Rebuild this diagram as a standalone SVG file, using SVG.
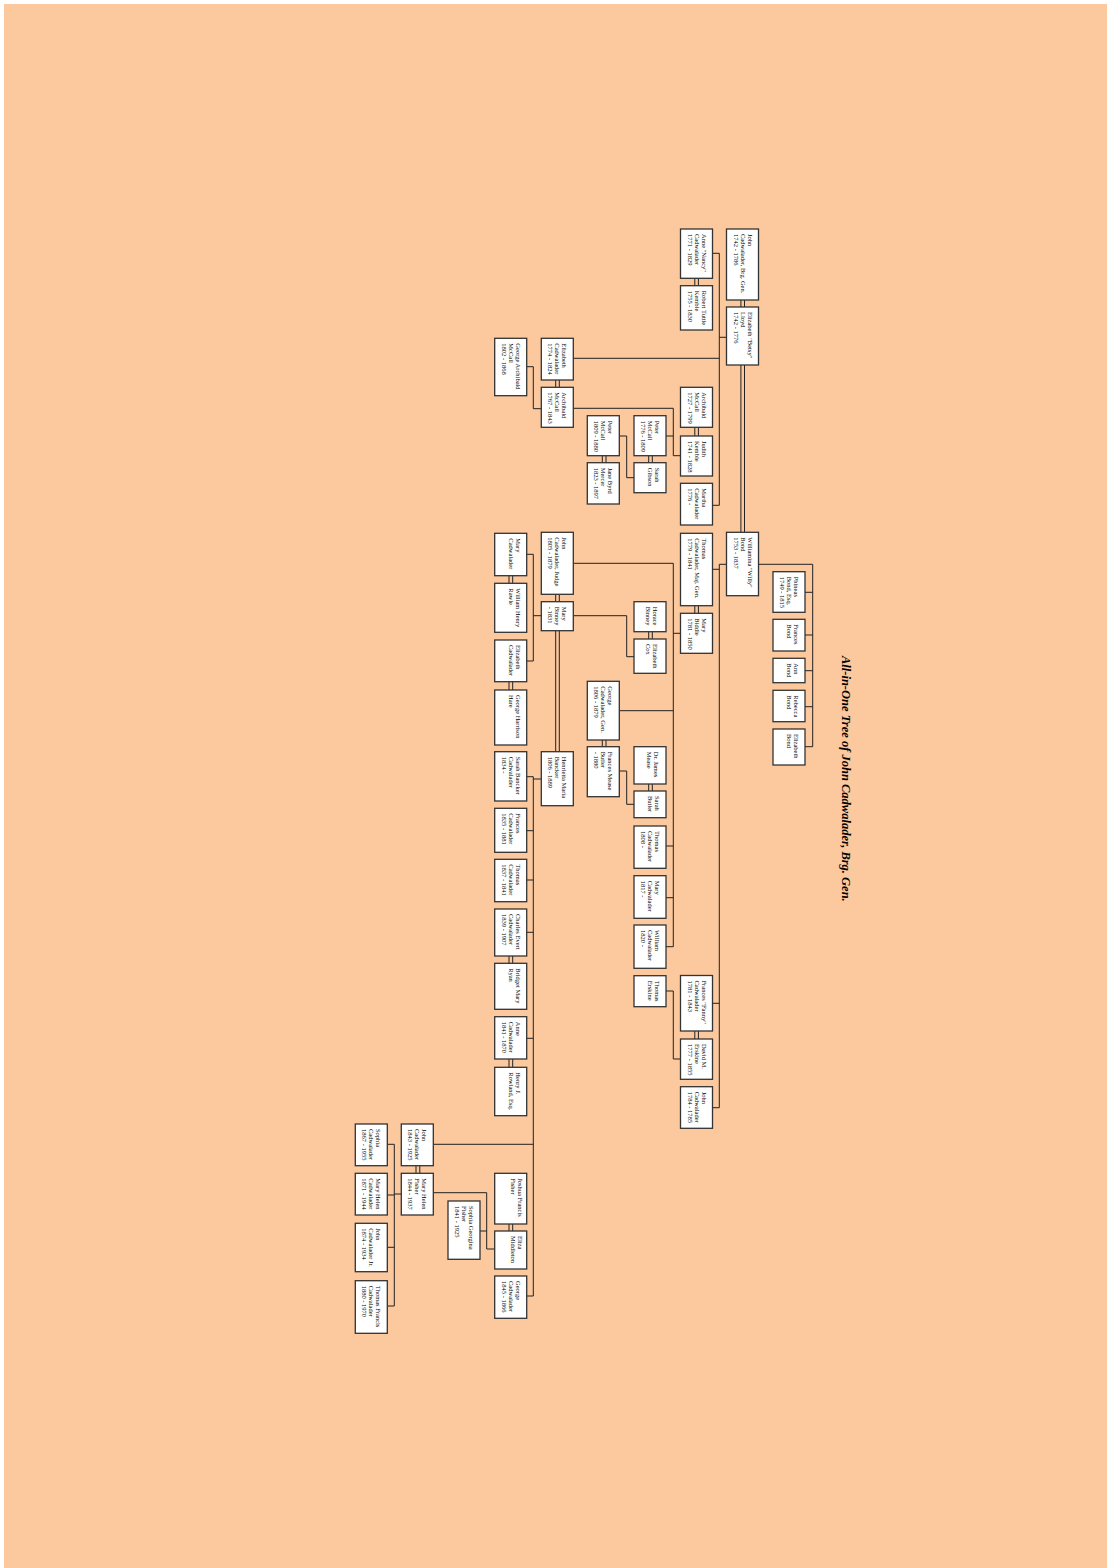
<svg xmlns="http://www.w3.org/2000/svg" width="1107" height="1568" viewBox="0 0 1107 1568">
<style>
.node rect{fill:#fff;stroke:#333;stroke-width:1.3}
.node text{font-family:"Liberation Serif","Times New Roman",serif;font-size:6.5px;fill:#000}
.conn path{fill:none;stroke:#222;stroke-width:1}
.title{font-family:"Liberation Serif","Times New Roman",serif;font-size:12.5px;font-weight:bold;font-style:italic;fill:#000}
</style>
<rect x="0" y="0" width="1107" height="1568" fill="#fff"/>
<rect x="4" y="4" width="1103" height="1564" fill="#FCC89E"/>
<text class="title" transform="translate(841.5,656) rotate(90)">All-in-One Tree of John Cadwalader, Brg. Gen.</text>

<g id="connectors" class="conn">
<path d="M719.3,253.3V505.3M712.5,253.3H719.3M726.7,337.3H719.3M573.3,358.3H719.3M712.5,505.3H719.3"/>
<path d="M726.7,564.3H719.3V1107.7M712.5,569.3H719.3M712.5,1003.3H719.3M712.5,1107.7H719.3"/>
<path d="M758.5,564.3H812.7V746.7M805,592.3H812.7M805,635H812.7M805,670.7H812.7M805,706.7H812.7M805,746.7H812.7"/>
<path d="M526.7,366.7H533.3V408.7H541"/>
<path d="M573.3,408.3H673.3V455.7H680.3M666,436H673.3"/>
<path d="M619.3,436H626.7V477.7H634"/>
<path d="M573.3,563.3H673.3V946.7M680.3,633.3H673.3M619.3,710.7H673.3M666,846H673.3M666,897.7H673.3M666,946.7H673.3"/>
<path d="M573.3,615.7H626.7V656.7H634"/>
<path d="M541,615.7H533.3M526.7,554.3H533.3V661H526.7"/>
<path d="M619.3,771H626.7V804.3H634"/>
<path d="M541,779H533.3M533.3,776.7V1296M526.7,776.7H533.3M526.7,830.7H533.3M526.7,880H533.3M526.7,932.3H533.3M526.7,1038.3H533.3M526.7,1296H533.3M433.3,1144.3H533.3"/>
<path d="M666,991H673.3V1059H680.3"/>
<path d="M433.3,1192.7H486.7V1249H494.7M480,1231H486.7"/>
<path d="M401.7,1194H394.3M394.3,1144.3V1306M387.3,1144.3H394.3M387.3,1195H394.3M387.3,1247.3H394.3M387.3,1306H394.3"/>
<!-- spouse double lines -->
<path d="M740.9,300V307M744.5,300V307M740.9,365V532.3M744.5,365V532.3"/>
<path d="M694.8,278.3V285.7M698.4,278.3V285.7M694.8,427.3V436M698.4,427.3V436M694.8,605.7V613.3M698.4,605.7V613.3M694.8,1031V1039M698.4,1031V1039"/>
<path d="M555.7,380V387.3M559.3,380V387.3M555.7,594.3V601.7M559.3,594.3V601.7M555.7,630.7V751.7M559.3,630.7V751.7"/>
<path d="M648.7,455.7V462.7M652.3,455.7V462.7M648.7,631.7V639M652.3,631.7V639M648.7,784V791M652.3,784V791"/>
<path d="M602.3,455.7V462.7M606,455.7V462.7M602.3,740V746.7M606,740V746.7"/>
<path d="M509,575.7V583.3M512.7,575.7V583.3M509,681.7V690M512.7,681.7V690M509,956V963.3M512.7,956V963.3M509,1059V1067.3M512.7,1059V1067.3M509,1224V1231M512.7,1224V1231"/>
<path d="M416,1165.7V1173.3M419.8,1165.7V1173.3"/>
</g>

<g id="john_brg" class="node" transform="translate(758.5,229) rotate(90)"><rect width="71" height="32"/><text><tspan x="5" y="11">John</tspan><tspan x="5" y="18">Cadwalader, Brg. Gen.</tspan><tspan x="5" y="25">1742 - 1786</tspan></text></g>
<g id="eliz_lloyd" class="node" transform="translate(758.5,307) rotate(90)"><rect width="58" height="32"/><text><tspan x="5" y="11">Elizabeth "Betsy"</tspan><tspan x="5" y="18">Lloyd</tspan><tspan x="5" y="25">1742 - 1776</tspan></text></g>
<g id="williamina" class="node" transform="translate(758.5,532.3) rotate(90)"><rect width="63.4" height="32"/><text><tspan x="5" y="11">Williamina "Willy"</tspan><tspan x="5" y="18">Bond</tspan><tspan x="5" y="25">1753 - 1837</tspan></text></g>

<g id="anne_nancy" class="node" transform="translate(712.5,229) rotate(90)"><rect width="49.3" height="32"/><text><tspan x="5" y="11">Anne "Nancy"</tspan><tspan x="5" y="18">Cadwalader</tspan><tspan x="5" y="25">1771 - 1829</tspan></text></g>
<g id="robert_kemble" class="node" transform="translate(712.5,285.7) rotate(90)"><rect width="44.3" height="32"/><text><tspan x="5" y="11">Robert Tuttle</tspan><tspan x="5" y="18">Kemble</tspan><tspan x="5" y="25">1755 - 1830</tspan></text></g>
<g id="archibald1727" class="node" transform="translate(712.5,387.3) rotate(90)"><rect width="40" height="32"/><text><tspan x="5" y="11">Archibald</tspan><tspan x="5" y="18">McCall</tspan><tspan x="5" y="25">1727 - 1799</tspan></text></g>
<g id="judith_kemble" class="node" transform="translate(712.5,436) rotate(90)"><rect width="40" height="32"/><text><tspan x="5" y="11">Judith</tspan><tspan x="5" y="18">Kemble</tspan><tspan x="5" y="25">1741 - 1828</tspan></text></g>
<g id="martha" class="node" transform="translate(712.5,483.3) rotate(90)"><rect width="41.7" height="32"/><text><tspan x="5" y="11">Martha</tspan><tspan x="5" y="18">Cadwalader</tspan><tspan x="5" y="25">1776 -</tspan></text></g>
<g id="thomas_maj" class="node" transform="translate(712.5,533.3) rotate(90)"><rect width="72.4" height="32"/><text><tspan x="5" y="11">Thomas</tspan><tspan x="5" y="18">Cadwalader, Maj. Gen.</tspan><tspan x="5" y="25">1779 - 1841</tspan></text></g>
<g id="mary_biddle" class="node" transform="translate(712.5,613.3) rotate(90)"><rect width="40" height="32"/><text><tspan x="5" y="11">Mary</tspan><tspan x="5" y="18">Biddle</tspan><tspan x="5" y="25">1781 - 1850</tspan></text></g>
<g id="fanny" class="node" transform="translate(712.5,975.5) rotate(90)"><rect width="55.5" height="32"/><text><tspan x="5" y="11">Frances "Fanny"</tspan><tspan x="5" y="18">Cadwalader</tspan><tspan x="5" y="25">1781 - 1843</tspan></text></g>
<g id="david_erskine" class="node" transform="translate(712.5,1039) rotate(90)"><rect width="40.3" height="32"/><text><tspan x="5" y="11">David M.</tspan><tspan x="5" y="18">Erskine</tspan><tspan x="5" y="25">1777 - 1855</tspan></text></g>
<g id="john1784" class="node" transform="translate(712.5,1086.7) rotate(90)"><rect width="41.6" height="32"/><text><tspan x="5" y="11">John</tspan><tspan x="5" y="18">Cadwalader</tspan><tspan x="5" y="25">1784 - 1785</tspan></text></g>

<g id="phineas_bond" class="node" transform="translate(805,571.7) rotate(90)"><rect width="40.6" height="32"/><text><tspan x="5" y="11">Phineas</tspan><tspan x="5" y="18">Bond, Esq.</tspan><tspan x="5" y="25">1749 - 1815</tspan></text></g>
<g id="frances_bond" class="node" transform="translate(805,619.3) rotate(90)"><rect width="31.7" height="32"/><text><tspan x="5" y="11">Frances</tspan><tspan x="5" y="18">Bond</tspan></text></g>
<g id="ann_bond" class="node" transform="translate(805,658.3) rotate(90)"><rect width="24.4" height="32"/><text><tspan x="5" y="11">Ann</tspan><tspan x="5" y="18">Bond</tspan></text></g>
<g id="rebecca_bond" class="node" transform="translate(805,690.3) rotate(90)"><rect width="31.4" height="32"/><text><tspan x="5" y="11">Rebecca</tspan><tspan x="5" y="18">Bond</tspan></text></g>
<g id="elizabeth_bond" class="node" transform="translate(805,729) rotate(90)"><rect width="36" height="32"/><text><tspan x="5" y="11">Elizabeth</tspan><tspan x="5" y="18">Bond</tspan></text></g>

<g id="peter1776" class="node" transform="translate(666,415.7) rotate(90)"><rect width="40" height="32"/><text><tspan x="5" y="11">Peter</tspan><tspan x="5" y="18">McCall</tspan><tspan x="5" y="25">1776 - 1809</tspan></text></g>
<g id="sarah_gibson" class="node" transform="translate(666,462.7) rotate(90)"><rect width="30" height="32"/><text><tspan x="5" y="11">Sarah</tspan><tspan x="5" y="18">Gibson</tspan></text></g>
<g id="horace_binney" class="node" transform="translate(666,601.7) rotate(90)"><rect width="30" height="32"/><text><tspan x="5" y="13">Horace</tspan><tspan x="5" y="20">Binney</tspan></text></g>
<g id="elizabeth_cox" class="node" transform="translate(666,639) rotate(90)"><rect width="34.3" height="32"/><text><tspan x="5" y="13">Elizabeth</tspan><tspan x="5" y="20">Cox</tspan></text></g>
<g id="james_mease" class="node" transform="translate(666,746.7) rotate(90)"><rect width="37.3" height="32"/><text><tspan x="5" y="12">Dr. James</tspan><tspan x="5" y="19">Mease</tspan></text></g>
<g id="sarah_butler" class="node" transform="translate(666,791) rotate(90)"><rect width="26.7" height="32"/><text><tspan x="5" y="11">Sarah</tspan><tspan x="5" y="18">Butler</tspan></text></g>
<g id="thomas1808" class="node" transform="translate(666,826) rotate(90)"><rect width="42.3" height="32"/><text><tspan x="5" y="11">Thomas</tspan><tspan x="5" y="18">Cadwalader</tspan><tspan x="5" y="25">1808 -</tspan></text></g>
<g id="mary1817" class="node" transform="translate(666,875.7) rotate(90)"><rect width="42.6" height="32"/><text><tspan x="5" y="11">Mary</tspan><tspan x="5" y="18">Cadwalader</tspan><tspan x="5" y="25">1817 -</tspan></text></g>
<g id="william1820" class="node" transform="translate(666,925) rotate(90)"><rect width="43.3" height="32"/><text><tspan x="5" y="11">William</tspan><tspan x="5" y="18">Cadwalader</tspan><tspan x="5" y="25">1820 -</tspan></text></g>
<g id="thomas_erskine" class="node" transform="translate(666,975.7) rotate(90)"><rect width="31" height="32"/><text><tspan x="5" y="11">Thomas</tspan><tspan x="5" y="18">Erskine</tspan></text></g>

<g id="peter1809" class="node" transform="translate(619.3,415.7) rotate(90)"><rect width="40" height="32"/><text><tspan x="5" y="11">Peter</tspan><tspan x="5" y="18">McCall</tspan><tspan x="5" y="25">1809 - 1880</tspan></text></g>
<g id="jane_mercer" class="node" transform="translate(619.3,462.7) rotate(90)"><rect width="41.3" height="32"/><text><tspan x="5" y="11">Jane Byrd</tspan><tspan x="5" y="18">Mercer</tspan><tspan x="5" y="25">1823 - 1897</tspan></text></g>
<g id="george_gen" class="node" transform="translate(619.3,681.3) rotate(90)"><rect width="58.7" height="32"/><text><tspan x="5" y="11">George</tspan><tspan x="5" y="18">Cadwalader, Gen.</tspan><tspan x="5" y="25">1806 - 1879</tspan></text></g>
<g id="frances_mease" class="node" transform="translate(619.3,746.7) rotate(90)"><rect width="50" height="32"/><text><tspan x="5" y="11">Frances Mease</tspan><tspan x="5" y="18">Butler</tspan><tspan x="5" y="25">- 1880</tspan></text></g>

<g id="elizabeth1774" class="node" transform="translate(573.3,338.3) rotate(90)"><rect width="41.7" height="32"/><text><tspan x="5" y="11">Elizabeth</tspan><tspan x="5" y="18">Cadwalader</tspan><tspan x="5" y="25">1774 - 1824</tspan></text></g>
<g id="archibald1767" class="node" transform="translate(573.3,387.3) rotate(90)"><rect width="40" height="32"/><text><tspan x="5" y="11">Archibald</tspan><tspan x="5" y="18">McCall</tspan><tspan x="5" y="25">1767 - 1843</tspan></text></g>
<g id="john_judge" class="node" transform="translate(573.3,532.3) rotate(90)"><rect width="62" height="32"/><text><tspan x="5" y="11">John</tspan><tspan x="5" y="18">Cadwalader, Judge</tspan><tspan x="5" y="25">1805 - 1879</tspan></text></g>
<g id="mary_binney" class="node" transform="translate(573.3,601.7) rotate(90)"><rect width="29" height="32"/><text><tspan x="5" y="11">Mary</tspan><tspan x="5" y="18">Binney</tspan><tspan x="5" y="25">- 1831</tspan></text></g>
<g id="henrietta" class="node" transform="translate(573.3,751.7) rotate(90)"><rect width="54" height="32"/><text><tspan x="5" y="11">Henrietta Maria</tspan><tspan x="5" y="18">Bancker</tspan><tspan x="5" y="25">1806 - 1889</tspan></text></g>

<g id="george_archibald" class="node" transform="translate(526.7,338.3) rotate(90)"><rect width="57.4" height="32"/><text><tspan x="5" y="11">George Archibald</tspan><tspan x="5" y="18">McCall</tspan><tspan x="5" y="25">1802 - 1868</tspan></text></g>
<g id="mary_cadwalader" class="node" transform="translate(526.7,533.3) rotate(90)"><rect width="42.4" height="32"/><text><tspan x="5" y="11">Mary</tspan><tspan x="5" y="18">Cadwalader</tspan></text></g>
<g id="william_rawle" class="node" transform="translate(526.7,583.3) rotate(90)"><rect width="49" height="32"/><text><tspan x="5" y="11">William Henry</tspan><tspan x="5" y="18">Rawle</tspan></text></g>
<g id="elizabeth_cadwalader" class="node" transform="translate(526.7,640) rotate(90)"><rect width="41.7" height="32"/><text><tspan x="5" y="11">Elizabeth</tspan><tspan x="5" y="18">Cadwalader</tspan></text></g>
<g id="george_hare" class="node" transform="translate(526.7,690) rotate(90)"><rect width="55" height="32"/><text><tspan x="5" y="11">George Harrison</tspan><tspan x="5" y="18">Hare</tspan></text></g>
<g id="sarah_bancker" class="node" transform="translate(526.7,751.7) rotate(90)"><rect width="49.3" height="32"/><text><tspan x="5" y="11">Sarah Bancker</tspan><tspan x="5" y="18">Cadwalader</tspan><tspan x="5" y="25">1834 -</tspan></text></g>
<g id="frances1835" class="node" transform="translate(526.7,808.3) rotate(90)"><rect width="44" height="32"/><text><tspan x="5" y="11">Frances</tspan><tspan x="5" y="18">Cadwalader</tspan><tspan x="5" y="25">1835 - 1881</tspan></text></g>
<g id="thomas1837" class="node" transform="translate(526.7,859.3) rotate(90)"><rect width="42.4" height="32"/><text><tspan x="5" y="11">Thomas</tspan><tspan x="5" y="18">Cadwalader</tspan><tspan x="5" y="25">1837 - 1841</tspan></text></g>
<g id="charles_evert" class="node" transform="translate(526.7,909) rotate(90)"><rect width="47" height="32"/><text><tspan x="5" y="11">Charles Evert</tspan><tspan x="5" y="18">Cadwalader</tspan><tspan x="5" y="25">1839 - 1907</tspan></text></g>
<g id="bridget_ryan" class="node" transform="translate(526.7,963.3) rotate(90)"><rect width="46" height="32"/><text><tspan x="5" y="11">Bridget Mary</tspan><tspan x="5" y="18">Ryan</tspan></text></g>
<g id="anne1841" class="node" transform="translate(526.7,1016.7) rotate(90)"><rect width="42.3" height="32"/><text><tspan x="5" y="11">Anne</tspan><tspan x="5" y="18">Cadwalader</tspan><tspan x="5" y="25">1841 - 1870</tspan></text></g>
<g id="henry_rowland" class="node" transform="translate(526.7,1067.3) rotate(90)"><rect width="48.4" height="32"/><text><tspan x="5" y="11">Henry J.</tspan><tspan x="5" y="18">Rowland, Esq.</tspan></text></g>
<g id="joshua_fisher" class="node" transform="translate(526.7,1173.3) rotate(90)"><rect width="50.7" height="32"/><text><tspan x="5" y="9">Joshua Francis</tspan><tspan x="5" y="16">Fisher</tspan></text></g>
<g id="eliza_middleton" class="node" transform="translate(526.7,1231) rotate(90)"><rect width="38" height="32"/><text><tspan x="5" y="9">Eliza</tspan><tspan x="5" y="16">Middleton</tspan></text></g>
<g id="george1845" class="node" transform="translate(526.7,1276) rotate(90)"><rect width="42.3" height="32"/><text><tspan x="5" y="11">George</tspan><tspan x="5" y="18">Cadwalader</tspan><tspan x="5" y="25">1845 - 1866</tspan></text></g>

<g id="sophia_georgina" class="node" transform="translate(480,1201) rotate(90)"><rect width="58.3" height="32"/><text><tspan x="5" y="11">Sophia Georgina</tspan><tspan x="5" y="18">Fisher</tspan><tspan x="5" y="25">1841 - 1925</tspan></text></g>

<g id="john1843" class="node" transform="translate(433.3,1124) rotate(90)"><rect width="41.7" height="32"/><text><tspan x="5" y="11">John</tspan><tspan x="5" y="18">Cadwalader</tspan><tspan x="5" y="25">1843 - 1925</tspan></text></g>
<g id="mary_helen_fisher" class="node" transform="translate(433.3,1173.3) rotate(90)"><rect width="41.7" height="32"/><text><tspan x="5" y="11">Mary Helen</tspan><tspan x="5" y="18">Fisher</tspan><tspan x="5" y="25">1844 - 1937</tspan></text></g>

<g id="sophia1867" class="node" transform="translate(387.3,1124) rotate(90)"><rect width="41.7" height="32"/><text><tspan x="5" y="11">Sophia</tspan><tspan x="5" y="18">Cadwalader</tspan><tspan x="5" y="25">1867 - 1955</tspan></text></g>
<g id="mary_helen_cadwalader" class="node" transform="translate(387.3,1173.3) rotate(90)"><rect width="41.7" height="32"/><text><tspan x="5" y="11">Mary Helen</tspan><tspan x="5" y="18">Cadwalader</tspan><tspan x="5" y="25">1871 - 1944</tspan></text></g>
<g id="john_jr" class="node" transform="translate(387.3,1223.3) rotate(90)"><rect width="48.4" height="32"/><text><tspan x="5" y="11">John</tspan><tspan x="5" y="18">Cadwalader Jr.</tspan><tspan x="5" y="25">1874 - 1934</tspan></text></g>
<g id="thomas_francis" class="node" transform="translate(387.3,1280.7) rotate(90)"><rect width="52.6" height="32"/><text><tspan x="5" y="11">Thomas Francis</tspan><tspan x="5" y="18">Cadwalader</tspan><tspan x="5" y="25">1880 - 1970</tspan></text></g>
</svg>
